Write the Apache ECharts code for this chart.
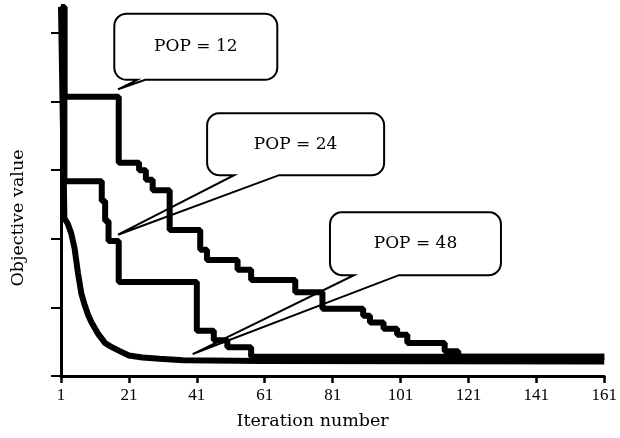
<!DOCTYPE html>
<html>
<head>
<meta charset="utf-8">
<script src="https://cdn.jsdelivr.net/npm/echarts@6/dist/echarts.min.js"></script>
<style>
  html, body { margin: 0; padding: 0; background: #fff; }
  #chart { width: 620px; height: 438px; }
</style>
</head>
<body>
<div id="chart"></div>
<script>
// x axis tick labels (iteration number)
const xTicks = [1, 21, 41, 61, 81, 101, 121, 141, 161];
const yTicks = [0, 1, 2, 3, 4, 5];

// step curves: iteration where the objective value changes, and the new value
const pop12Iter = [1, 2, 18, 24, 26, 28, 33, 42, 44, 53, 57, 70, 78, 90, 92, 96, 100, 103, 114, 118, 161];
const pop12Val  = [5.38, 4.07, 3.11, 3.0, 2.86, 2.71, 2.13, 1.84, 1.69, 1.55, 1.40, 1.22, 0.98, 0.88, 0.78, 0.69, 0.60, 0.48, 0.36, 0.28, 0.28];
const pop24Iter = [1, 2, 13, 14, 15, 18, 41, 46, 50, 57, 161];
const pop24Val  = [5.38, 2.84, 2.55, 2.26, 1.97, 1.37, 0.66, 0.52, 0.42, 0.28, 0.28];
// POP=48 decays quickly
const pop48Iter = [1, 2, 3, 4, 5, 6, 7, 8, 9, 10, 12, 14, 16, 18, 21, 25, 30, 37, 60, 161];
const pop48Val  = [5.38, 2.30, 2.22, 2.08, 1.86, 1.50, 1.20, 1.03, 0.89, 0.78, 0.61, 0.48, 0.42, 0.37, 0.30, 0.27, 0.25, 0.23, 0.22, 0.21];

// callouts
const calloutLabels = ['POP = 12', 'POP = 24', 'POP = 48'];
const calloutTips = [[17.8, 4.18], [17.8, 2.06], [39.8, 0.32]];
const calloutCenters = [[40.7, 4.80], [70.1, 3.38], [105.4, 1.93]];

const boxSizes = [[163, 66], [177, 62], [171, 63]];
const tailBases = [[23, 31], [27, 72], [24, 69]];
const serif = 'DejaVu Serif';

const chart = echarts.init(document.getElementById('chart'));

const pairs = (xs, ys) => xs.map((x, i) => [x, ys[i]]);
const curveStyle = { color: '#000', width: 6 };

chart.setOption({
    animation: false,
    backgroundColor: '#fff',
    grid: { left: 61, right: 15, top: 7, bottom: 62 },
    xAxis: {
        type: 'value',
        min: xTicks[0],
        max: xTicks[xTicks.length - 1],
        interval: xTicks[1] - xTicks[0],
        name: 'Iteration number',
        nameLocation: 'middle',
        nameGap: 36,
        nameTextStyle: { fontFamily: serif, fontSize: 17.5, color: '#000', padding: [0, 40, 0, 0] },
        axisLine: { lineStyle: { color: '#000', width: 3 } },
        axisTick: { length: 7, customValues: xTicks, lineStyle: { color: '#000', width: 2.5 } },
        axisLabel: { customValues: xTicks, fontFamily: 'Liberation Serif', fontSize: 17, color: '#000', margin: 11 },
        splitLine: { show: false }
    },
    yAxis: {
        type: 'value',
        min: yTicks[0],
        max: 5.38,
        interval: yTicks[1] - yTicks[0],
        name: 'Objective value',
        nameLocation: 'middle',
        nameGap: 34,
        nameTextStyle: { fontFamily: serif, fontSize: 17.5, color: '#000', padding: [0, 53, 0, 0] },
        axisLine: { lineStyle: { color: '#000', width: 3 } },
        axisTick: { length: 10, customValues: yTicks, lineStyle: { color: '#000', width: 2 } },
        axisLabel: { show: false },
        splitLine: { show: false }
    },
    series: [
        { name: 'POP=12', type: 'line', step: 'end', showSymbol: false, lineStyle: curveStyle, data: pairs(pop12Iter, pop12Val) },
        { name: 'POP=24', type: 'line', step: 'end', showSymbol: false, lineStyle: curveStyle, data: pairs(pop24Iter, pop24Val) },
        { name: 'POP=48', type: 'line', showSymbol: false, lineStyle: curveStyle, data: pairs(pop48Iter, pop48Val) }
    ]
});

// speech bubble outline: rounded box with a wedge pointing at the curve
function bubblePoints(c, size, tip, base) {
    const r = 12, L = c[0] - size[0] / 2, R = c[0] + size[0] / 2, T = c[1] - size[1] / 2, B = c[1] + size[1] / 2;
    const pts = [];
    const arc = (cx, cy, a0, a1) => {
        for (let k = 0; k <= 6; k++) {
            const a = (a0 + (a1 - a0) * k / 6) * Math.PI / 180;
            pts.push([cx + r * Math.cos(a), cy + r * Math.sin(a)]);
        }
    };
    arc(R - r, T + r, -90, 0);
    arc(R - r, B - r, 0, 90);
    pts.push([L + base[1], B], tip, [L + base[0], B]);
    arc(L + r, B - r, 90, 180);
    arc(L + r, T + r, 180, 270);
    return pts;
}

const graphics = [];
calloutLabels.forEach((label, i) => {
    const c = chart.convertToPixel({ gridIndex: 0 }, calloutCenters[i]);
    const tip = chart.convertToPixel({ gridIndex: 0 }, calloutTips[i]);
    graphics.push({
        type: 'polygon',
        z: 1,
        shape: { points: bubblePoints(c, boxSizes[i], tip, tailBases[i]) },
        style: { fill: '#fff', stroke: '#000', lineWidth: 2 }
    });
    graphics.push({
        type: 'text',
        z: 1,
        x: c[0],
        y: c[1],
        style: { text: label, font: '17px "DejaVu Serif"', fill: '#000', align: 'center', verticalAlign: 'middle' }
    });
});
chart.setOption({ graphic: graphics });

window.addEventListener('resize', () => chart.resize());
</script>
</body>
</html>
